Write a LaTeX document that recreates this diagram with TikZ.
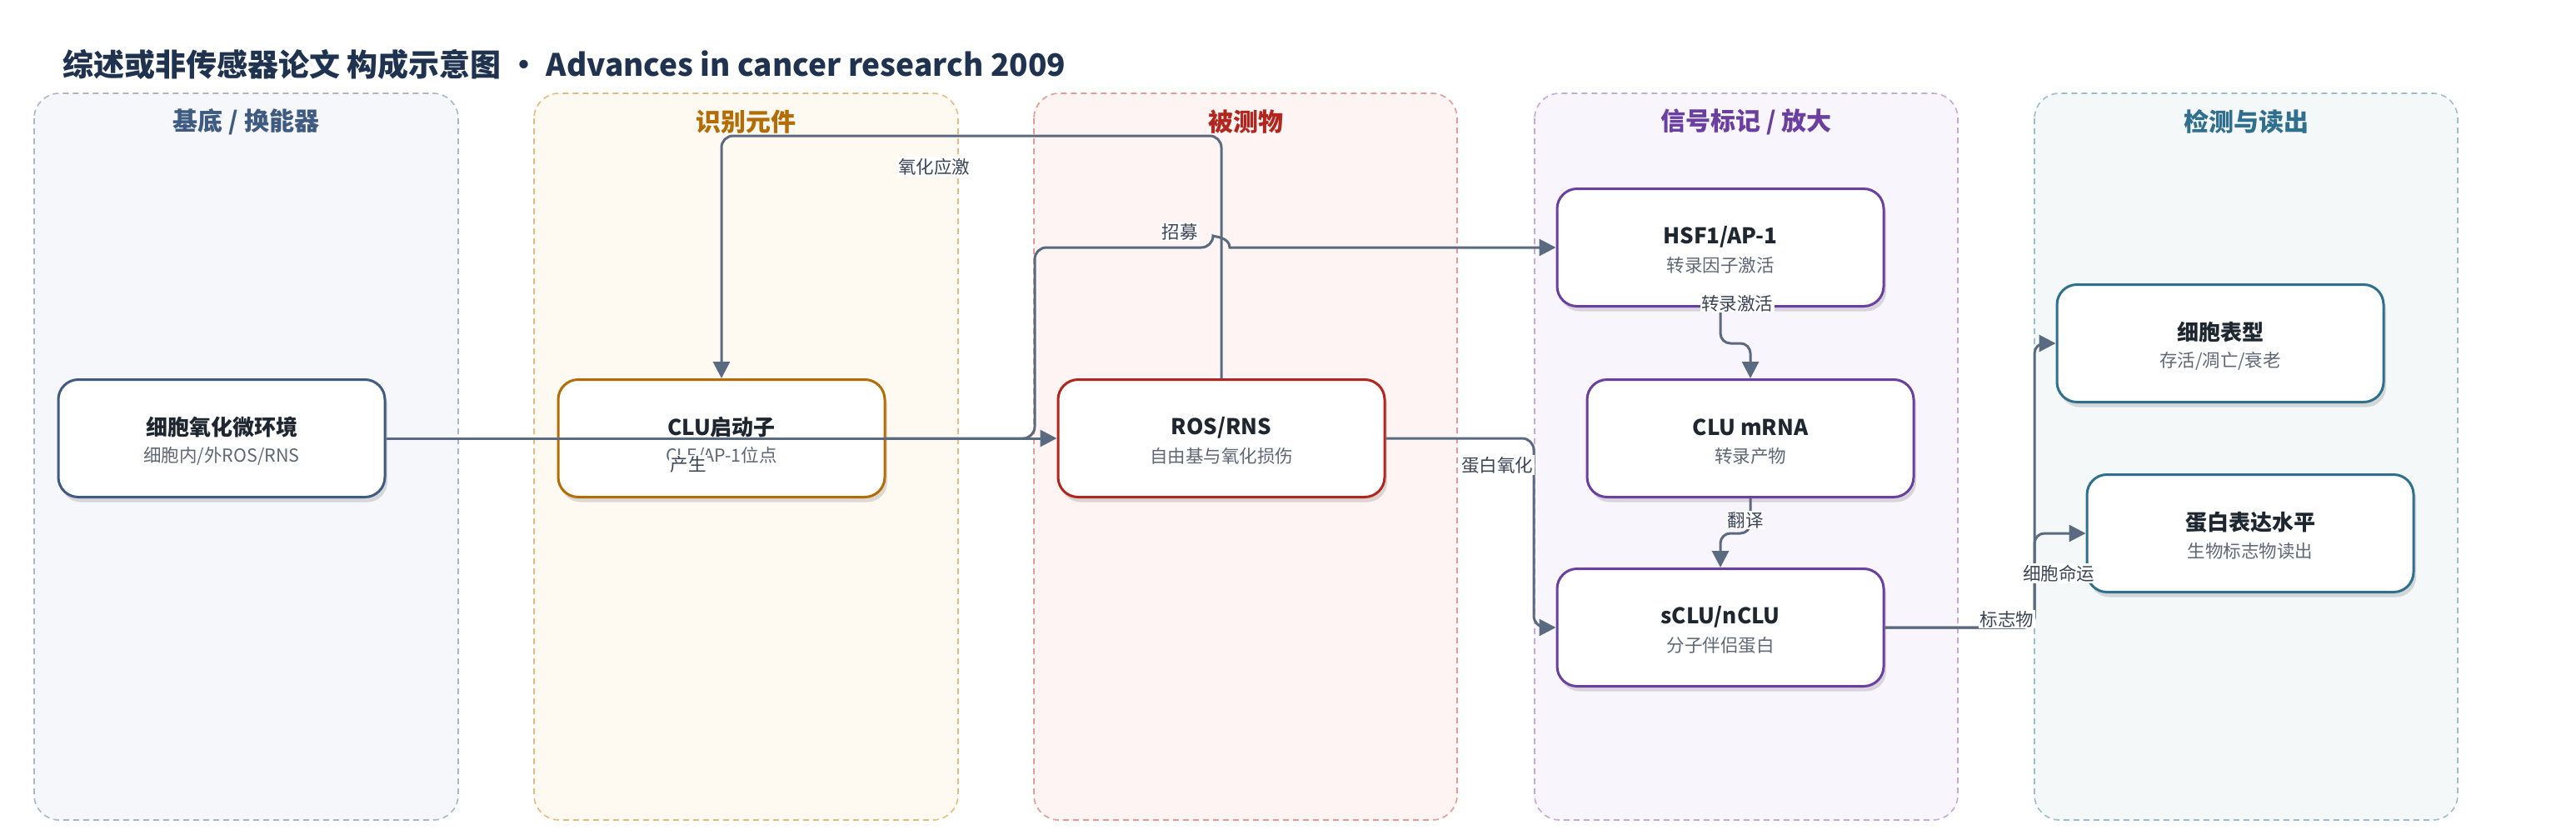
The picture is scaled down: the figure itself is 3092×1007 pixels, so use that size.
\documentclass[tikz,border=0pt]{standalone}
\usepackage{fontspec}
\setmainfont{Noto Sans CJK SC}
\usetikzlibrary{arrows.meta,shadows}
\definecolor{l1fill}{HTML}{F5F7FB}\definecolor{l1bd}{HTML}{A9B6CB}\definecolor{l1tx}{HTML}{3F5B82}
\definecolor{l2fill}{HTML}{FEF9F1}\definecolor{l2bd}{HTML}{E4BC7E}\definecolor{l2tx}{HTML}{B46D06}
\definecolor{l3fill}{HTML}{FDF4F3}\definecolor{l3bd}{HTML}{E59A96}\definecolor{l3tx}{HTML}{B3261E}
\definecolor{l4fill}{HTML}{F8F5FC}\definecolor{l4bd}{HTML}{C4AADF}\definecolor{l4tx}{HTML}{6B3FA0}
\definecolor{l5fill}{HTML}{F4F8F9}\definecolor{l5bd}{HTML}{9DBFCD}\definecolor{l5tx}{HTML}{30708F}
\definecolor{conncol}{HTML}{5A6A80}
\definecolor{ttl}{HTML}{1F3350}
\definecolor{ntitle}{HTML}{1E2630}
\definecolor{nsub}{HTML}{5F6776}
\definecolor{lbl}{HTML}{3B4557}
\begin{document}
\begin{tikzpicture}[x=1pt,y=-1pt,
  lane/.style={rounded corners=30pt, line width=1.6pt, dash pattern=on 7pt off 5pt},
  lanetitle/.style={font=\bfseries\fontsize{30}{34}\selectfont, anchor=center, inner sep=0pt},
  box/.style={draw, line width=3pt, rounded corners=24pt, fill=white,
    minimum width=392pt, minimum height=141pt, inner sep=0pt,
    drop shadow={shadow xshift=3pt, shadow yshift=-6pt, fill=black, opacity=0.13}},
  ntitle/.style={font=\bfseries\fontsize{26}{30}\selectfont, text=ntitle, inner sep=0pt},
  nsub/.style={font=\fontsize{21.5}{25}\selectfont, text=nsub, inner sep=0pt},
  conn/.style={draw=conncol, line width=3pt, rounded corners=14pt,
    -{Triangle[length=20pt,width=20pt]}},
  elabel/.style={font=\fontsize{21.5}{25}\selectfont, text=lbl, fill=white, inner sep=1.5pt}]
\useasboundingbox (0,0) rectangle (3092,1007);
\fill[white] (0,0) rectangle (3092,1007);
% title
\node[anchor=base west, inner sep=0pt, text=ttl, font=\bfseries\fontsize{37}{42}\selectfont] (title) at (75,91) {综述或非传感器论文 构成示意图 • Advances in cancer research 2009};
% lanes
\draw[lane, draw=l1bd, fill=l1fill] (41,112) rectangle (550,984);
\draw[lane, draw=l2bd, fill=l2fill] (641,112) rectangle (1150,984);
\draw[lane, draw=l3bd, fill=l3fill] (1241,112) rectangle (1749,984);
\draw[lane, draw=l4bd, fill=l4fill] (1842,112) rectangle (2350,984);
\draw[lane, draw=l5bd, fill=l5fill] (2442,112) rectangle (2950,984);
\node[lanetitle, text=l1tx] (lt1) at (295.5,146) {基底 / 换能器};
\node[lanetitle, text=l2tx] (lt2) at (895.5,146) {识别元件};
\node[lanetitle, text=l3tx] (lt3) at (1495,146) {被测物};
\node[lanetitle, text=l4tx] (lt4) at (2096,146) {信号标记 / 放大};
\node[lanetitle, text=l5tx] (lt5) at (2696,146) {检测与读出};
% boxes
\node[box, draw=l1tx] (n1) at (266,526) {};
\node[ntitle] (n1t) at (266,513) {细胞氧化微环境};
\node[nsub] (n1s) at (266,547) {细胞内/外ROS/RNS};
\node[box, draw=l2tx] (n2) at (866,526) {};
\node[ntitle] (n2t) at (866,513) {CLU启动子};
\node[nsub] (n2s) at (866,547) {CLE/AP-1位点};
\node[box, draw=l3tx] (n3) at (1466,526) {};
\node[ntitle] (n3t) at (1466,513) {ROS/RNS};
\node[nsub] (n3s) at (1466,547) {自由基与氧化损伤};
\node[box, draw=l4tx] (n4) at (2065,297) {};
\node[ntitle] (n4t) at (2065,284) {HSF1/AP-1};
\node[nsub] (n4s) at (2065,318) {转录因子激活};
\node[box, draw=l4tx] (n5) at (2101,526) {};
\node[ntitle] (n5t) at (2101,513) {CLU mRNA};
\node[nsub] (n5s) at (2101,547) {转录产物};
\node[box, draw=l4tx] (n6) at (2065,753) {};
\node[ntitle] (n6t) at (2065,740) {sCLU/nCLU};
\node[nsub] (n6s) at (2065,774) {分子伴侣蛋白};
\node[box, draw=l5tx] (n7) at (2665,412) {};
\node[ntitle] (n7t) at (2665,399) {细胞表型};
\node[nsub] (n7s) at (2665,433) {存活/凋亡/衰老};
\node[box, draw=l5tx] (n8) at (2701,640) {};
\node[ntitle] (n8t) at (2701,627) {蛋白表达水平};
\node[nsub] (n8s) at (2701,661) {生物标志物读出};
% connectors
\draw[conn] (n1.east) -- (n3.west);
\draw[conn] (n2.east) -- (1242,526) -- (1242,297) -- (1456,297) [sharp corners] .. controls (1456,284) and (1476,284) .. (1476,297) -- (n4.west);
\draw[conn] (n3.north) -- (1466,163) -- (866,163) -- (n2.north);
\draw[conn] (n3.east) -- (1841,526) -- (1841,753) -- (n6.west);
\draw[conn, rounded corners=12pt] (n4.south) -- (2065,412) -- (2101,412) -- (n5.north);
\draw[conn, rounded corners=12pt] (n5.south) -- (2101,640) -- (2065,640) -- (n6.north);
\draw[conn, rounded corners=12pt] (n6.east) -- (2442,753) -- (2442,412) -- (n7.west);
\draw[conn, rounded corners=12pt] (n6.east) -- (2442,753) -- (2442,640) -- (n8.west);
% edge labels
\node[elabel] (lb1) at (826,557) {产生};
\node[elabel] (lb2) at (1416,278) {招募};
\node[elabel] (lb3) at (1121,200) {氧化应激};
\node[elabel] (lb4) at (1797,558) {蛋白氧化};
\node[elabel] (lb5) at (2085,364) {转录激活};
\node[elabel] (lb6) at (2095,624) {翻译};
\node[elabel] (lb7) at (2409,743) {标志物};
\node[elabel] (lb8) at (2471,688) {细胞命运};
\end{tikzpicture}
\end{document}
